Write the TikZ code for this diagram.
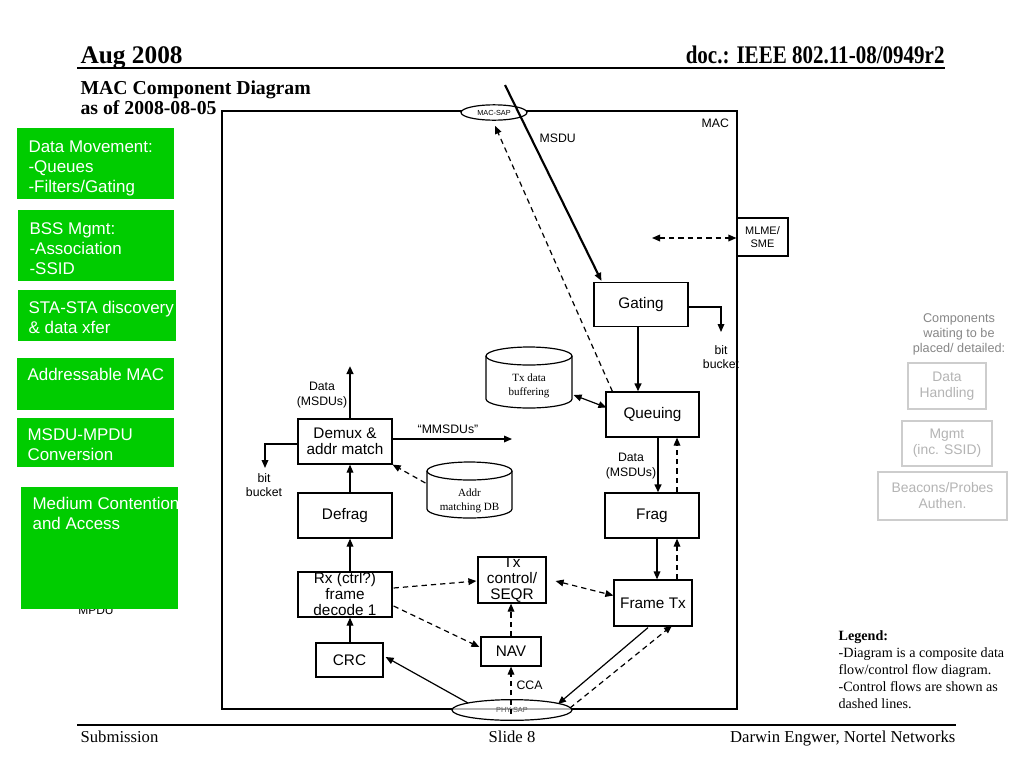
\documentclass[tikz,border=0pt]{standalone}
\usepackage{fontspec}
\setmainfont{Liberation Serif}
\setsansfont{Liberation Sans}
\usetikzlibrary{arrows.meta,calc,shapes.geometric}
\definecolor{ggreen}{RGB}{0,204,0}
\definecolor{gtxt}{RGB}{135,135,135}
\definecolor{gbox}{RGB}{205,205,205}
\definecolor{gbtxt}{RGB}{180,180,180}
\begin{document}
\begin{tikzpicture}[x=0.75pt,y=-0.75pt,
  line width=0.9pt,
  box/.style={draw,line width=0.9pt,fill=white,inner sep=0pt,align=center,
    font=\sffamily\fontsize{11.5}{12}\selectfont},
  lbl/.style={inner sep=0pt,align=center,font=\sffamily\fontsize{9.2}{10.8}\selectfont},
  gtext/.style={inner sep=0pt,align=left,anchor=north west,text=white,
    font=\sffamily\fontsize{12.7}{15}\selectfont},
  dbtext/.style={inner sep=0pt,align=center,font=\fontsize{8.3}{10}\selectfont},
  waitbox/.style={draw=gbox,line width=0.9pt,inner sep=0pt,align=center,text=gbtxt,
    font=\sffamily\fontsize{10.4}{12}\selectfont},
  arr/.style={-{Triangle[length=6pt,width=5pt]}},
  darr/.style={{Triangle[length=6pt,width=5pt]}-{Triangle[length=6pt,width=5pt]}},
  dsh/.style={dash pattern=on 4pt off 3pt},
  thickl/.style={line width=1.6pt}
]
\useasboundingbox (0,0) rectangle (1024,768);
\fill[white] (0,0) rectangle (1024,768);

% ---------- header ----------
\node[anchor=base west,inner sep=0pt,font=\bfseries\fontsize{19}{22}\selectfont] (hdate) at (80,63) {Aug 2008};
\node[anchor=base east,inner sep=0pt,xscale=0.83,font=\bfseries\fontsize{19}{22}\selectfont] (hdoc) at (945,63) {doc.: IEEE 802.11-08/0949r2};
\coordinate (hl1) at (77,68);
\coordinate (hl2) at (945,68);
\draw[line width=1.2pt] (hl1) -- (hl2);
\node[anchor=base west,inner sep=0pt,font=\bfseries\fontsize{14.8}{17}\selectfont] (title1) at (80,94) {MAC Component Diagram};
\node[anchor=base west,inner sep=0pt,font=\bfseries\fontsize{14.8}{17}\selectfont] (title2) at (80,114) {as of 2008-08-05};

% ---------- footer ----------
\coordinate (fl1) at (77,725);
\coordinate (fl2) at (956,725);
\draw[line width=1.2pt] (fl1) -- (fl2);
\node[anchor=base west,inner sep=0pt,font=\fontsize{12.5}{14}\selectfont] (fsub) at (80,742) {Submission};
\node[anchor=base,inner sep=0pt,font=\fontsize{12.5}{14}\selectfont] (fslide) at (512,742) {Slide 8};
\node[anchor=base east,inner sep=0pt,font=\fontsize{12.5}{14}\selectfont] (fauth) at (956,742) {Darwin Engwer, Nortel Networks};

% ---------- green boxes ----------
\node[anchor=base,inner sep=0pt,font=\sffamily\fontsize{9}{10}\selectfont] (mpdu) at (96,614) {MPDU};
\fill[ggreen] (17,128) rectangle (174,199);
\node[gtext] (g1) at (28,140) {Data Movement:\\-Queues\\-Filters/Gating};
\fill[ggreen] (18,210) rectangle (174,281);
\node[gtext] (g2) at (29,222) {BSS Mgmt:\\-Association\\-SSID};
\fill[ggreen] (18,290) rectangle (176,341);
\node[gtext] (g3) at (28,301) {STA-STA discovery\\\& data xfer};
\fill[ggreen] (17,358) rectangle (174,410);
\node[gtext] (g4) at (27,368) {Addressable MAC};
\fill[ggreen] (17,418) rectangle (174,467);
\node[gtext] (g5) at (27,428) {MSDU-MPDU\\Conversion};
\fill[ggreen] (21,487) rectangle (178,609);
\node[gtext] (g6) at (32,497) {Medium Contention\\and Access};

% ---------- MAC box ----------
\coordinate (m1) at (222,111);
\coordinate (m2) at (737,111);
\coordinate (m3) at (737,709);
\coordinate (m4) at (222,709);
\draw (m1) -- (m2) -- (m3) -- (m4) -- cycle;
\node[anchor=base west,lbl] (maclbl) at (701,127) {MAC};

% MLME/SME
\node[box,minimum width=38.25pt,minimum height=28.5pt,font=\sffamily\fontsize{8.2}{9.5}\selectfont] (mlme) at (762.5,237) {MLME/\\SME};
\coordinate (mlmeL) at (652,238);
\draw[darr,dsh] (mlmeL) -- (mlme.west |- mlmeL);

% ---------- boxes ----------
\node[box,minimum width=70.5pt,minimum height=33pt] (gating) at (641,304.5) {Gating};
\node[box,minimum width=69.75pt,minimum height=33.75pt] (queuing) at (652.5,414.5) {Queuing};
\node[box,minimum width=70.5pt,minimum height=33.75pt] (frag) at (652,515.5) {Frag};
\node[box,minimum width=58.5pt,minimum height=34.5pt] (frametx) at (653,603) {Frame Tx};
\node[box,minimum width=51pt,minimum height=34.5pt] (txctrl) at (512,580) {Tx\\control/\\SEQR};
\node[box,minimum width=70.5pt,minimum height=33.75pt] (rx) at (345,594.5) {Rx (ctrl?)\\frame\\decode 1};
\node[box,minimum width=45pt,minimum height=21.75pt] (nav) at (511,651.5) {NAV};
\node[box,minimum width=50.25pt,minimum height=25.5pt] (crc) at (349.5,660) {CRC};
\node[box,minimum width=70.5pt,minimum height=33.75pt] (defrag) at (345,515.5) {Defrag};
\node[box,minimum width=70.5pt,minimum height=33.75pt] (demux) at (345,441.5) {Demux \&\\addr match};

% ---------- databases ----------
\draw[fill=white] (486,356) -- (486,399) arc[start angle=180,end angle=0,x radius=43,y radius=9] -- (572,356);
\draw[fill=white] (529,356) ellipse[x radius=43,y radius=9];
\node[dbtext,minimum width=64.5pt,minimum height=34pt] (txbuf) at (529,386) {Tx data\\buffering};
\draw[fill=white] (427,471) -- (427,509) arc[start angle=180,end angle=0,x radius=42.5,y radius=9] -- (512,471);
\draw[fill=white] (469.5,471) ellipse[x radius=42.5,y radius=9];
\node[dbtext,minimum width=63.75pt,minimum height=33pt] (addrdb) at (469.5,501) {Addr\\matching DB};

% ---------- SAPs ----------
\node[draw,ellipse,fill=white,minimum width=49.5pt,minimum height=11.5pt,inner sep=0pt,
  font=\sffamily\fontsize{5.5}{6}\selectfont] (macsap) at (494,112.5) {MAC-SAP};

% ---------- connectors (upper) ----------
\coordinate (msdutop) at (505,85);
\draw[arr,thickl] (msdutop) -- ($(gating.north west)+(8,-1)$);
\node[anchor=base west,lbl] (msdulbl) at (539,142) {MSDU};
\draw[arr,dsh] ($(queuing.north west)+(7,0)$) -- ($(macsap.south)+(1,5)$);

\coordinate (bbR) at (721,307);
\draw[arr] (gating.east |- bbR) -- (bbR) -- ++(0,25);
\node[lbl] (bitR) at (721,357) {bit\\bucket};

\coordinate (gqx) at (638,0);
\draw[arr,thickl] (gating.south -| gqx) -- (queuing.north -| gqx);

\draw[darr] ($(txbuf.east)+(1,9)$) -- ($(queuing.west)+(1,-7)$);

\coordinate (qfx) at (658,0);
\coordinate (fqx) at (677,0);
\node[lbl] (datq) at (631,466) {Data\\(MSDUs)};
\draw[arr,thickl] (queuing.south -| qfx) -- (frag.north -| qfx);
\draw[arr,dsh] (frag.north -| fqx) -- (queuing.south -| fqx);

\coordinate (ffx) at (657,0);
\draw[arr] (frag.south -| ffx) -- (frametx.north -| ffx);
\draw[arr,dsh] (frametx.north -| fqx) -- (frag.south -| fqx);

% ---------- receive side ----------
\coordinate (rxx) at (350,0);
\draw[arr] (crc.north -| rxx) -- (rx.south -| rxx);
\draw[arr] (rx.north -| rxx) -- (defrag.south -| rxx);
\draw[arr] (defrag.north -| rxx) -- (demux.south -| rxx);
\coordinate (dmtop) at (350,366);
\draw[arr,thickl] (demux.north -| rxx) -- (dmtop);
\node[lbl] (datd) at (322,395) {Data\\(MSDUs)};

\coordinate (mms) at (512,439);
\draw[arr] (demux.east |- mms) -- (mms);
\node[anchor=base,lbl] (mmslbl) at (448,433) {“MMSDUs”};

\coordinate (bbL) at (265,444);
\draw[arr] (demux.west |- bbL) -- (bbL) -- ++(0,24);
\node[lbl] (bitL) at (264,485) {bit\\bucket};

\draw[arr,dsh] ($(addrdb.west)+(-1,-18)$) -- (demux.south east);

% ---------- control ----------
\draw[arr,dsh] ($(rx.east)+(1,-6.5)$) -- ($(txctrl.west)+(-1,1)$);
\draw[arr,dsh] ($(rx.east)+(1,11.5)$) -- ($(nav.west)+(-1,-4.5)$);
\draw[darr,dsh] ($(txctrl.east)+(9,1)$) -- ($(frametx.west)+(0,-7.5)$);
\draw[arr,dsh] (nav.north) -- (nav.north |- txctrl.south);

% ---------- PHY-SAP ----------
\node[draw,ellipse,fill=white,fill opacity=0.7,text opacity=1,minimum width=90pt,minimum height=15.5pt,inner sep=0pt,
  font=\sffamily\fontsize{5.5}{6}\selectfont,text=black!65] (physap) at (512,710) {PHY-SAP};
\coordinate (ccab) at (511,714);
\draw[arr,dsh] (ccab) -- (nav.south);
\node[anchor=base west,lbl] (ccalbl) at (516,689) {CCA};
\coordinate (phycrc) at (468,703);
\draw[arr] (phycrc) -- ($(crc.east)+(2,-3)$);
\coordinate (phytx) at (558,704);
\draw[arr] ($(frametx.south)+(-5,1)$) -- (phytx);
\coordinate (phytx2) at (570,708);
\draw[arr,dsh] (phytx2) -- ($(frametx.south)+(19,-1)$);

% ---------- waiting components ----------
\node[inner sep=0pt,align=center,text=gtxt,font=\sffamily\fontsize{9.5}{11.3}\selectfont] (waitlbl) at (959,334) {Components\\waiting to be\\placed/ detailed:};
\node[waitbox,minimum width=58.5pt,minimum height=34.5pt] (w1) at (947,386) {Data\\Handling};
\node[waitbox,minimum width=67.5pt,minimum height=33.75pt] (w2) at (947,443.5) {Mgmt\\(inc. SSID)};
\node[waitbox,minimum width=96.75pt,minimum height=36pt] (w3) at (942.5,496) {Beacons/Probes\\Authen.};

% ---------- legend ----------
\node[anchor=north west,inner sep=0pt,align=left,font=\fontsize{10.6}{12.8}\selectfont] (legend) at (838,630)
  {\textbf{Legend:}\\-Diagram is a composite data\\flow/control flow diagram.\\-Control flows are shown as\\dashed lines.};
\end{tikzpicture}
\end{document}
